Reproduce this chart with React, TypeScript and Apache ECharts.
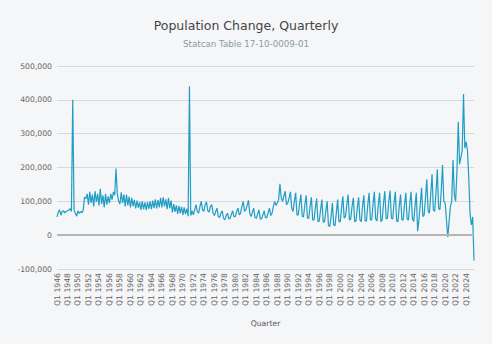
import React, { useEffect, useRef } from "react";
import * as echarts from "echarts";

// Quarterly population change, Q1 1946 .. Q3 2025 (4 values per year)
const values1940s = [
  54000, 68000, 75000, 59000, // 1946
  70000, 72000, 66000, 70000, // 1947
  72000, 74000, 78000, 70000, // 1948
  400000, 74000, 65000, 56000, // 1949
];
const values1950s = [
  72000, 64000, 70000, 66000, // 1950
  74000, 112000, 108000, 122000, // 1951
  90000, 128000, 95000, 120000, // 1952
  85000, 130000, 98000, 122000, // 1953
  88000, 137000, 92000, 118000, // 1954
  82000, 122000, 90000, 115000, // 1955
  95000, 122000, 105000, 128000, // 1956
  118000, 197000, 122000, 100000, // 1957
  92000, 127000, 95000, 120000, // 1958
  85000, 120000, 88000, 114000, // 1959
];
const values1960s = [
  82000, 110000, 86000, 104000, // 1960
  79000, 102000, 81000, 98000, // 1961
  75000, 100000, 77000, 97000, // 1962
  74000, 98000, 78000, 100000, // 1963
  77000, 102000, 80000, 106000, // 1964
  79000, 104000, 82000, 110000, // 1965
  82000, 112000, 85000, 106000, // 1966
  77000, 110000, 80000, 102000, // 1967
  67000, 92000, 69000, 88000, // 1968
  63000, 87000, 65000, 84000, // 1969
];
const values1970s = [
  60000, 82000, 62000, 78000, // 1970
  56000, 440000, 58000, 72000, // 1971
  60000, 75000, 90000, 70000, // 1972
  65000, 85000, 100000, 75000, // 1973
  70000, 90000, 98000, 72000, // 1974
  68000, 85000, 90000, 65000, // 1975
  58000, 70000, 80000, 55000, // 1976
  52000, 65000, 72000, 50000, // 1977
  45000, 58000, 65000, 48000, // 1978
  50000, 62000, 72000, 55000, // 1979
];
const values1980s = [
  55000, 70000, 80000, 60000, // 1980
  65000, 85000, 100000, 70000, // 1981
  75000, 88000, 103000, 65000, // 1982
  55000, 68000, 80000, 52000, // 1983
  50000, 62000, 75000, 48000, // 1984
  48000, 60000, 72000, 52000, // 1985
  52000, 66000, 80000, 58000, // 1986
  65000, 85000, 100000, 88000, // 1987
  95000, 105000, 152000, 110000, // 1988
  100000, 115000, 130000, 90000, // 1989
];
const values1990s = [
  95000, 110000, 128000, 80000, // 1990
  70000, 100000, 125000, 60000, // 1991
  60000, 95000, 120000, 55000, // 1992
  55000, 90000, 118000, 50000, // 1993
  50000, 85000, 112000, 45000, // 1994
  45000, 80000, 108000, 40000, // 1995
  42000, 75000, 105000, 38000, // 1996
  40000, 70000, 100000, 30000, // 1997
  25000, 55000, 95000, 30000, // 1998
  28000, 65000, 105000, 40000, // 1999
];
const values2000s = [
  40000, 80000, 115000, 50000, // 2000
  55000, 90000, 120000, 45000, // 2001
  48000, 85000, 110000, 40000, // 2002
  42000, 80000, 112000, 45000, // 2003
  40000, 85000, 118000, 42000, // 2004
  42000, 90000, 125000, 45000, // 2005
  45000, 92000, 128000, 48000, // 2006
  42000, 90000, 125000, 40000, // 2007
  45000, 95000, 130000, 48000, // 2008
  50000, 100000, 132000, 50000, // 2009
];
const values2010s = [
  48000, 95000, 128000, 42000, // 2010
  40000, 85000, 120000, 45000, // 2011
  45000, 90000, 125000, 48000, // 2012
  45000, 92000, 128000, 50000, // 2013
  40000, 85000, 125000, 12000, // 2014
  45000, 90000, 140000, 55000, // 2015
  60000, 110000, 165000, 70000, // 2016
  65000, 120000, 180000, 75000, // 2017
  70000, 125000, 195000, 80000, // 2018
  75000, 130000, 207000, 100000, // 2019
];
const values2020s = [
  95000, 45000, -5000, 40000, // 2020
  85000, 100000, 222000, 120000, // 2021
  100000, 190000, 335000, 210000, // 2022
  230000, 250000, 417000, 257000, // 2023
  276000, 251000, 170000, 62000, // 2024
  30000, 54000, -75000, // 2025
];

const values = [
  ...values1940s,
  ...values1950s,
  ...values1960s,
  ...values1970s,
  ...values1980s,
  ...values1990s,
  ...values2000s,
  ...values2010s,
  ...values2020s,
];

const firstYear = 1946;
const quarters = values.map(
  (_, i) => `Q${(i % 4) + 1} ${firstYear + Math.floor(i / 4)}`
);

const yTicks = { min: -100000, max: 500000, step: 100000 };

const FONT = "DejaVu Sans";
const fmt = (v: number) => String(v).replace(/\B(?=(\d{3})+(?!\d))/g, ",");

export default function App() {
  const ref = useRef<HTMLDivElement>(null);
  useEffect(() => {
    if (!ref.current) return;
    const chart = echarts.init(ref.current, null, { renderer: "svg" });
    chart.setOption({
      animation: false,
      backgroundColor: "#f5f6f8",
      textStyle: { fontFamily: FONT },
      title: {
        text: "Population Change, Quarterly",
        subtext: "Statcan Table 17-10-0009-01",
        left: "center",
        top: 14,
        itemGap: 7,
        textStyle: {
          fontFamily: FONT,
          fontSize: 12.5,
          fontWeight: "normal",
          color: "#444",
        },
        subtextStyle: { fontFamily: FONT, fontSize: 8.7, color: "#8c9aa0" },
      },
      grid: { left: 57, right: 18, top: 66, bottom: 75 },
      xAxis: {
        type: "category",
        data: quarters,
        boundaryGap: false,
        axisLine: { show: false },
        axisTick: { show: false },
        splitLine: { show: false },
        axisLabel: {
          interval: 7,
          rotate: 90,
          fontSize: 7.7,
          color: "#666",
          margin: 4,
          fontFamily: FONT,
        },
        name: "Quarter",
        nameLocation: "middle",
        nameGap: 50,
        nameTextStyle: { fontSize: 7.7, color: "#555", fontFamily: FONT },
      },
      yAxis: {
        type: "value",
        min: yTicks.min,
        max: yTicks.max,
        interval: yTicks.step,
        axisLine: { show: false },
        axisTick: { show: false },
        axisLabel: {
          formatter: fmt,
          fontSize: 7.7,
          color: "#666",
          margin: 5,
          fontFamily: FONT,
        },
        splitLine: { lineStyle: { color: "#d6d9dd", width: 1 } },
      },
      series: [
        {
          type: "line",
          data: values,
          showSymbol: false,
          symbol: "none",
          lineStyle: { color: "#1f9dc4", width: 1.2 },
          markLine: {
            silent: true,
            symbol: "none",
            label: { show: false },
            lineStyle: { color: "#b5b5b5", width: 2, type: "solid" },
            data: [{ yAxis: 0 }],
          },
        },
      ],
    });
    return () => chart.dispose();
  }, []);
  return (
    <div
      ref={ref}
      style={{ position: "fixed", left: 0, top: 0, width: 492, height: 344 }}
    />
  );
}
